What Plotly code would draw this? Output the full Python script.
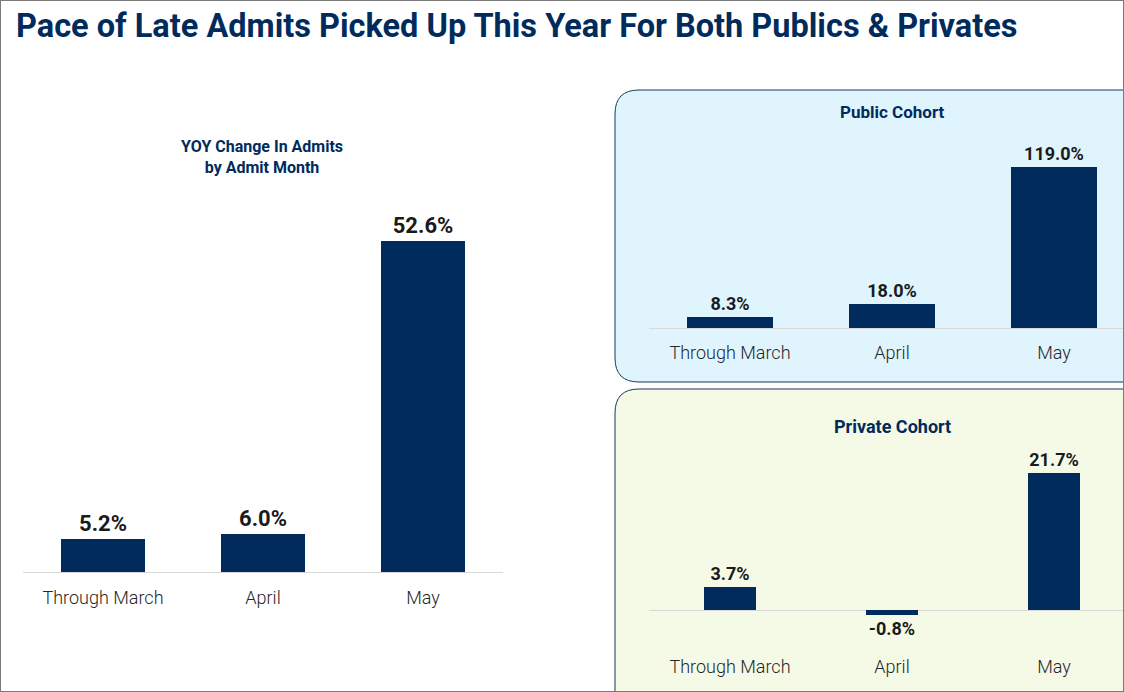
import plotly.graph_objects as go

W, H = 1124, 692

# ---- data ----
categories = ["Through March", "April", "May"]
overall_yoy = [5.2, 6.0, 52.6]
public_yoy = [8.3, 18.0, 119.0]
private_yoy = [3.7, -0.8, 21.7]

title_text = "Pace of Late Admits Picked Up This Year For Both Publics & Privates"
left_title = "YOY Change In Admits<br>by Admit Month"
public_title = "Public Cohort"
private_title = "Private Cohort"

NAVY = "#002B5C"
TXT = "#1a1a1a"
TICK = "#262626"
FONT = "Roboto"


def px_x(p):
    return p / W


def px_y(p):
    return 1 - p / H


def y_axis(zero_px, ppu, top_px, bottom_px):
    dom = [px_y(bottom_px), px_y(top_px)]
    rng = [(zero_px - bottom_px) / ppu, (zero_px - top_px) / ppu]
    return dom, rng


fig = go.Figure()

panels = [
    dict(vals=overall_yoy, xa="x", ya="y", width=0.525, size=22),
    dict(vals=public_yoy, xa="x2", ya="y2", width=0.53, size=18),
    dict(vals=private_yoy, xa="x3", ya="y3", width=0.315, size=18),
]
for p in panels:
    fig.add_trace(go.Bar(
        x=categories, y=p["vals"], xaxis=p["xa"], yaxis=p["ya"],
        marker=dict(color=NAVY, line=dict(width=0)), width=p["width"],
        texttemplate="%{y:.1f}%", textposition="outside", cliponaxis=False,
        textfont=dict(family=FONT, size=p["size"], color=TXT, weight="bold"),
        hoverinfo="skip", showlegend=False,
    ))

ydom1, yr1 = y_axis(572, 6.29, 200, 574)
ydom2, yr2 = y_axis(328, 1.353, 140, 330)
ydom3, yr3 = y_axis(610, 6.31, 450, 641)

xcommon = dict(showgrid=False, showline=False, zeroline=False, ticks="outside",
               tickcolor="rgba(0,0,0,0)", tickfont=dict(family=FONT, size=18, color=TICK, weight=300),
               fixedrange=True, type="category")
ycommon = dict(showgrid=False, showline=False, showticklabels=False, zeroline=True,
               zerolinecolor="#d9d9d9", zerolinewidth=1, ticks="", fixedrange=True)

rng_right = [-0.5, -0.5 + (W - 649) / 162.0]

fig.update_layout(
    width=W, height=H, margin=dict(l=0, r=0, t=0, b=0),
    paper_bgcolor="white", plot_bgcolor="rgba(0,0,0,0)",
    bargap=0,
    xaxis=dict(domain=[px_x(23), px_x(503)], range=[-0.5, 2.5], anchor="y", ticklen=7, **xcommon),
    yaxis=dict(domain=ydom1, range=yr1, anchor="x", **ycommon),
    xaxis2=dict(domain=[px_x(649), 1], range=rng_right, anchor="y2", ticklen=6, **xcommon),
    yaxis2=dict(domain=ydom2, range=yr2, anchor="x2", **ycommon),
    xaxis3=dict(domain=[px_x(649), 1], range=rng_right, anchor="y3", ticklen=9, **xcommon),
    yaxis3=dict(domain=ydom3, range=yr3, anchor="x3", **ycommon),
)


def rounded_panel(x0, y0, x1, y1, r):
    # pixel coords -> paper path, rounded top-left and bottom-left corners
    rx, ry = r / W, r / H
    X0, X1 = px_x(x0), px_x(x1)
    Y0, Y1 = px_y(y0), px_y(y1)  # Y0 top (larger), Y1 bottom
    return (f"M {X0+rx},{Y0} L {X1},{Y0} L {X1},{Y1} L {X0+rx},{Y1} "
            f"Q {X0},{Y1} {X0},{Y1+ry} L {X0},{Y0-ry} Q {X0},{Y0} {X0+rx},{Y0} Z")


shapes = [
    dict(type="path", xref="paper", yref="paper", layer="below",
         path=rounded_panel(615, 90, 1140, 382, 24),
         fillcolor="#DFF4FC", line=dict(color="#12385C", width=1)),
    dict(type="path", xref="paper", yref="paper", layer="below",
         path=rounded_panel(615, 389, 1140, 720, 24),
         fillcolor="#F5FAE6", line=dict(color="#12385C", width=1)),
    dict(type="rect", xref="paper", yref="paper", x0=0, y0=0, x1=1, y1=1,
         line=dict(color="#7a7a7a", width=2), fillcolor="rgba(0,0,0,0)", layer="above"),
]
fig.update_layout(shapes=shapes)

annotations = [
    dict(text=f"<b>{title_text}</b>", x=px_x(14), y=px_y(26), xanchor="left", yanchor="middle",
         font=dict(family=FONT, size=32.5, color=NAVY)),
    dict(text=f"<b>{left_title}</b>", x=px_x(262), y=px_y(157), xanchor="center", yanchor="middle",
         font=dict(family=FONT, size=16, color=NAVY)),
    dict(text=f"<b>{public_title}</b>", x=px_x(892), y=px_y(112), xanchor="center", yanchor="middle",
         font=dict(family=FONT, size=17, color=NAVY)),
    dict(text=f"<b>{private_title}</b>", x=px_x(892), y=px_y(426), xanchor="center", yanchor="middle",
         font=dict(family=FONT, size=18, color=NAVY)),
]
for a in annotations:
    a.update(xref="paper", yref="paper", showarrow=False)
fig.update_layout(annotations=annotations)

fig.write_html("out.html", config={"displayModeBar": False},
               post_script="document.body.style.margin='0';")
